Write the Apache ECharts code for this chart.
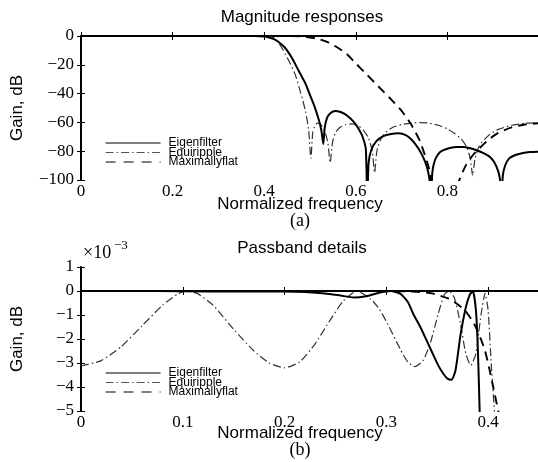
<!DOCTYPE html>
<html><head><meta charset="utf-8">
<script src="https://cdn.jsdelivr.net/npm/echarts@6/dist/echarts.min.js"></script>
<style>html,body{margin:0;padding:0;background:#fff}#c{width:538px;height:462px}</style>
</head><body><div id="c"></div>
<script>
// ---- (a) Magnitude responses, dB ----
const tEigF = [0,0.38,0.40,0.41,0.42,0.43,0.445,0.46,0.475,0.49,0.50,0.51,0.52,0.525,0.529,0.532,0.537,0.545,0.555,0.567,0.58,0.595,0.607,0.616,0.622,0.625,0.628,0.634,0.645,0.66,0.677,0.694,0.71,0.722,0.732,0.742,0.751,0.757,0.761,0.764,0.767,0.772,0.78,0.79,0.805,0.82,0.835,0.85,0.865,0.88,0.893,0.903,0.911,0.915,0.918,0.921,0.926,0.935,0.95,0.965,0.98,1.0];
const tEigG = [0,0,-0.4,-1,-2,-3.8,-8,-15,-24,-33,-41,-49,-59,-66,-75,-64,-57,-53.5,-52,-52.8,-55,-59.5,-65,-71,-79,-115,-88,-79,-73,-69.5,-68,-67.6,-69,-72,-76,-81,-87,-93,-100,-115,-95,-87,-82,-79.5,-77.8,-77,-77,-78,-79.5,-81.5,-84,-88,-94,-100,-115,-97,-90,-85,-82.5,-81.2,-80.6,-80.3];
const tEqF = [0,0.40,0.42,0.43,0.44,0.455,0.468,0.48,0.49,0.497,0.502,0.506,0.511,0.517,0.524,0.532,0.539,0.544,0.549,0.556,0.565,0.578,0.592,0.606,0.618,0.628,0.636,0.641,0.646,0.654,0.665,0.68,0.70,0.72,0.74,0.76,0.78,0.80,0.815,0.83,0.842,0.85,0.855,0.86,0.87,0.89,0.91,0.94,0.97,1.0];
const tEqG = [0,0,-1,-4,-9,-18,-27,-40,-52,-65,-85,-67,-62,-60.5,-61.5,-66,-74,-88,-74,-67,-63.5,-61.5,-61,-62.5,-66,-71,-80,-95,-80,-72,-67,-63.5,-61.5,-60.5,-60.2,-60.5,-62,-64.5,-67.5,-71.5,-77,-85,-97,-86,-76,-69,-65,-62,-60.6,-60.2];
const tMxF = [0,0.46,0.48,0.50,0.52,0.54,0.56,0.58,0.60,0.62,0.64,0.66,0.68,0.70,0.72,0.74,0.76,0.775,0.81,0.826,0.84,0.855,0.87,0.89,0.91,0.94,0.97,1.0];
const tMxG = [0,0,-0.3,-1,-2.2,-4.5,-8,-12.5,-19,-25.5,-32,-38.5,-45,-52,-61,-73,-92,-115,-115,-100,-90,-83,-78,-72,-67.5,-63.5,-61.5,-60.5];

// ---- (b) Passband details, units of 1e-3 dB ----
const bEigF = [0,0.05,0.10,0.15,0.20,0.22,0.24,0.255,0.268,0.28,0.292,0.304,0.314,0.321,0.327,0.334,0.34,0.346,0.351,0.356,0.36,0.364,0.368,0.373,0.378,0.382,0.385,0.388,0.39,0.392];
const bEigG = [0,0,-0.01,-0.02,-0.02,-0.04,-0.1,-0.19,-0.27,-0.22,-0.08,0,-0.12,-0.45,-1.0,-1.55,-2.1,-2.65,-3.1,-3.45,-3.65,-3.7,-3.3,-1.8,-0.7,-0.15,0,-0.8,-2.5,-5.5];
const bEqF = [0,0.02,0.04,0.06,0.08,0.095,0.104,0.115,0.13,0.15,0.17,0.185,0.20,0.215,0.23,0.245,0.258,0.271,0.285,0.293,0.301,0.314,0.321,0.328,0.336,0.343,0.351,0.357,0.362,0.367,0.373,0.378,0.383,0.388,0.393,0.397,0.40,0.403,0.407];
const bEqG = [-3.12,-2.9,-2.3,-1.45,-0.6,-0.12,0,-0.12,-0.6,-1.6,-2.5,-3.0,-3.2,-2.95,-2.2,-1.2,-0.4,0,-0.35,-0.75,-1.35,-2.45,-2.95,-3.15,-2.9,-2.2,-0.95,-0.15,0,-0.3,-1.4,-2.6,-3.1,-2.6,-1.0,-0.1,-0.8,-3,-5.5];
const bMxF = [0,0.30,0.33,0.345,0.36,0.37,0.378,0.386,0.392,0.397,0.401,0.406,0.411];
const bMxG = [0,0,-0.03,-0.1,-0.3,-0.55,-0.85,-1.35,-1.9,-2.5,-3.2,-4.2,-5.2];

const names = ['Eigenfilter','Equiripple','Maximallyflat'];

const pairs = (f, g) => f.map((x, i) => [x, g[i]]);
const minus = v => String(v).replace('-', '\u2212');
const SERIF = 'Liberation Serif';
const SANS = 'Liberation Sans';

const styles = {
  Eigenfilter: {color:'#000', width:2, type:'solid'},
  Equiripple: {color:'#333', width:1.2, type:[8,3,1.5,3]},
  Maximallyflat: {color:'#000', width:1.9, type:[9,6]}
};

function axesFor(g, xmin, xmax, xint, ymin, ymax, yint) {
  const xa = [
    {gridIndex:g, type:'value', min:xmin, max:xmax, interval:xint, position:'bottom',
     axisLine:{show:true, lineStyle:{color:'#000', width:2}},
     axisTick:{show:true, inside:true, length:4, lineStyle:{color:'#000'}},
     axisLabel:{show:true, margin:3, color:'#000', fontFamily:SERIF, fontSize:17, formatter:minus, showMaxLabel:false},
     splitLine:{show:false}},
    {gridIndex:g, type:'value', min:xmin, max:xmax, interval:xint, position:'top',
     axisLine:{show:true, lineStyle:{color:'#000', width:1}},
     axisTick:{show:true, inside:true, length:4, lineStyle:{color:'#000'}},
     axisLabel:{show:false}, splitLine:{show:false}}
  ];
  const ya = [
    {gridIndex:g, type:'value', min:ymin, max:ymax, interval:yint, position:'left',
     name:'Gain, dB', nameLocation:'middle', nameGap:55, nameRotate:90,
     nameTextStyle:{fontFamily:SANS, fontSize:17, color:'#000'},
     axisLine:{show:true, lineStyle:{color:'#000', width:2}},
     axisTick:{show:true, inside:true, length:4, lineStyle:{color:'#000'}},
     axisLabel:{show:true, margin:7, color:'#000', fontFamily:SERIF, fontSize:17, formatter:minus},
     splitLine:{show:false}},
    {gridIndex:g, type:'value', min:ymin, max:ymax, interval:yint, position:'right',
     axisLine:{show:true, lineStyle:{color:'#000', width:1}},
     axisTick:{show:true, inside:true, length:4, lineStyle:{color:'#000'}},
     axisLabel:{show:false}, splitLine:{show:false}}
  ];
  return {xa, ya};
}

const A = axesFor(0, 0, 1, 0.2, -100, 0, 20);
const B = axesFor(1, 0, 0.45, 0.1, -5, 1, 1);

function mk(name, f, g, xi, yi) {
  return {name, type:'line', data:pairs(f, g), xAxisIndex:xi, yAxisIndex:yi,
    symbol:'none', showSymbol:false, smooth:0.2, clip:true, lineStyle:styles[name],
    itemStyle:{color:'#000', opacity:0}, z:3};
}

function legendAt(top) {
  const hid = {opacity:0, borderWidth:0};
  return {orient:'vertical', left:105, top:top, padding:0, itemWidth:55, itemHeight:10, itemGap:-2.5,
    selectedMode:false,
    textStyle:{fontFamily:SANS, fontSize:12, lineHeight:10, color:'#000', padding:[0,0,0,3]},
    data:[
      {name:'Eigenfilter', itemStyle:hid, lineStyle:{color:'#000', width:1, type:'solid'}},
      {name:'Equiripple', itemStyle:hid, lineStyle:{color:'#555', width:1, type:[8,3,1.5,3]}},
      {name:'Maximallyflat', itemStyle:hid, lineStyle:{color:'#000', width:1.2, type:[10,8]}}
    ]};
}

const chart = echarts.init(document.getElementById('c'), null, {renderer:'canvas'});
chart.setOption({
  animation:false,
  backgroundColor:'#fff',
  grid:[
    {left:81, top:36, width:458, height:144, containLabel:false, outerBoundsMode:'none'},
    {left:81, top:267, width:458, height:144, containLabel:false, outerBoundsMode:'none'}
  ],
  xAxis:[...A.xa, ...B.xa],
  yAxis:[...A.ya, ...B.ya],
  legend:[legendAt(137), legendAt(367)],
  graphic:[
    {type:'text', x:302, y:17, style:{text:'Magnitude responses', font:'17px "Liberation Sans"', fill:'#000', textAlign:'center', textVerticalAlign:'middle'}},
    {type:'text', x:300, y:204, style:{text:'Normalized frequency', font:'17px "Liberation Sans"', fill:'#000', textAlign:'center', textVerticalAlign:'middle'}},
    {type:'text', x:300, y:221, style:{text:'(a)', font:'18px "Liberation Serif"', fill:'#000', textAlign:'center', textVerticalAlign:'middle'}},
    {type:'text', x:302, y:248, style:{text:'Passband details', font:'17px "Liberation Sans"', fill:'#000', textAlign:'center', textVerticalAlign:'middle'}},
    {type:'text', x:300, y:433, style:{text:'Normalized frequency', font:'17px "Liberation Sans"', fill:'#000', textAlign:'center', textVerticalAlign:'middle'}},
    {type:'text', x:300, y:450, style:{text:'(b)', font:'18px "Liberation Serif"', fill:'#000', textAlign:'center', textVerticalAlign:'middle'}},
    {type:'text', x:83, y:253, style:{text:'\u00d710', font:'18px "Liberation Serif"', fill:'#000', textAlign:'left', textVerticalAlign:'middle'}},
    {type:'text', x:114, y:246, style:{text:'\u22123', font:'13px "Liberation Serif"', fill:'#000', textAlign:'left', textVerticalAlign:'middle'}}
  ],
  series:[
    mk('Equiripple', tEqF, tEqG, 0, 0),
    mk('Maximallyflat', tMxF, tMxG, 0, 0),
    mk('Eigenfilter', tEigF, tEigG, 0, 0),
    mk('Equiripple', bEqF, bEqG, 2, 2),
    mk('Maximallyflat', bMxF, bMxG, 2, 2),
    mk('Eigenfilter', bEigF, bEigG, 2, 2)
  ]
});
</script>
</body></html>
